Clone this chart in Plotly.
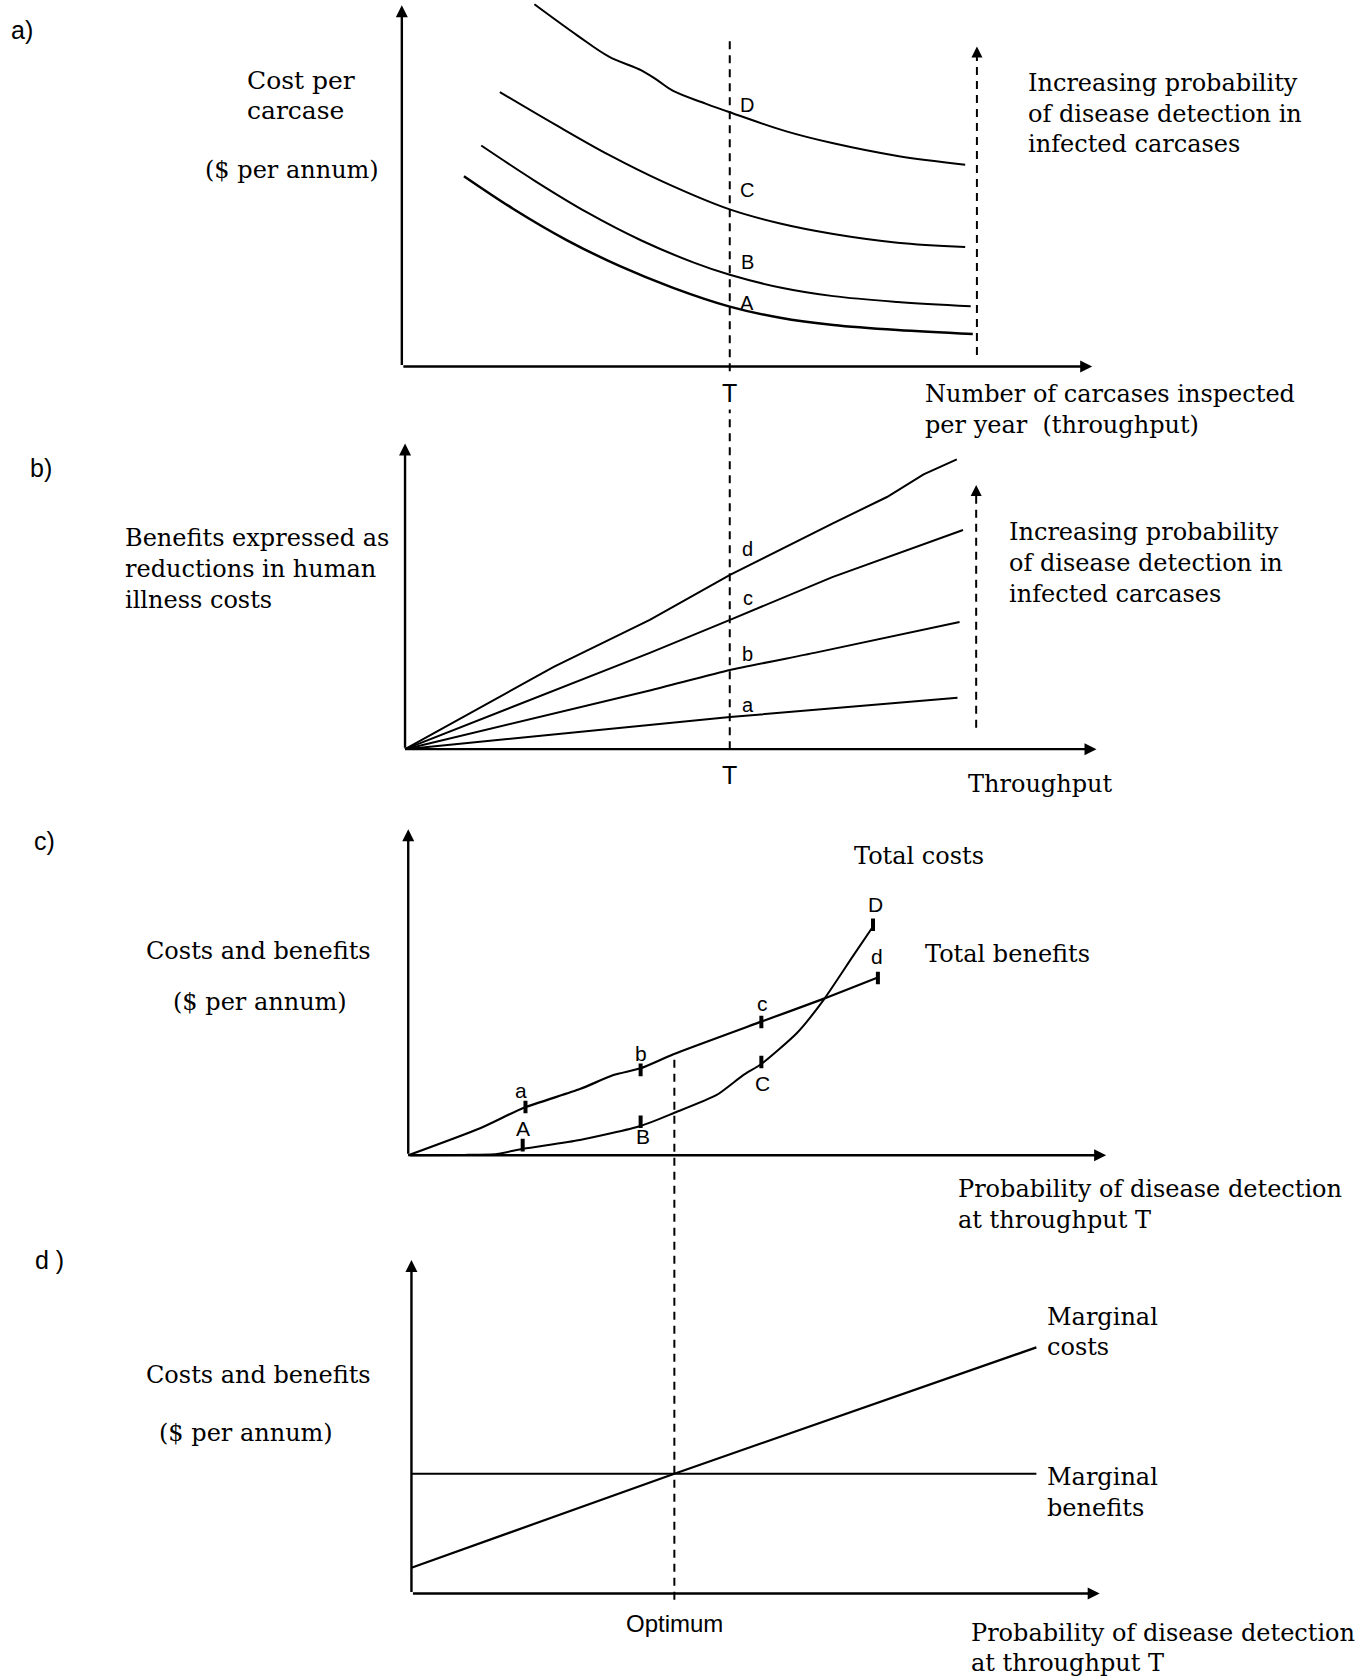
import plotly.graph_objects as go

# ---------------- data (abstract units: 0-100 along each drawn axis) ----------------
# Panel a: cost per carcase vs throughput, curves A-D
PA_A_X = [9.0, 16.1, 23.8, 31.6, 39.3, 47.5, 54.8, 62.5, 71.8, 82.7]
PA_A_Y = [52.7, 43.7, 35.1, 27.8, 21.8, 16.6, 13.5, 11.5, 10.1, 9.0]
PA_B_X = [11.5, 19.2, 26.9, 34.7, 42.4, 47.5, 54.8, 62.5, 71.8, 82.4]
PA_B_Y = [61.2, 51.5, 42.6, 34.9, 28.7, 25.4, 21.9, 19.5, 17.9, 16.7]
PA_C_X = [14.2, 22.3, 30.0, 37.8, 47.5, 54.8, 62.5, 71.8, 81.6]
PA_C_Y = [76.0, 66.9, 58.6, 51.2, 43.5, 39.6, 36.7, 34.3, 33.1]
PA_D_X = [19.2, 25.4, 30.0, 34.7, 37.0, 39.3, 44.0, 47.5, 55.7, 62.5, 71.8, 81.6]
PA_D_Y = [100.3, 91.7, 85.8, 82.0, 79.3, 76.3, 72.8, 70.4, 65.1, 61.8, 58.3, 55.9]
PA_T = 47.5            # throughput T
PA_PROB_ARROW = 83.3   # "increasing probability" arrow position
PA_LABELS = ["D", "C", "B", "A"]
PA_LABEL_Y = [72.5, 48.8, 29.0, 17.5]

# Panel b: benefits vs throughput, lines a-d
PB_D_X = [0, 21.5, 35.4, 47.0, 61.8, 69.7, 75.0, 79.8]
PB_D_Y = [0, 26.9, 42.3, 57.0, 73.8, 82.5, 89.9, 94.8]
PB_C_X = [0, 35.4, 47.0, 61.8, 80.7]
PB_C_Y = [0, 31.5, 42.3, 56.3, 71.7]
PB_B_X = [0, 35.4, 47.0, 59.2, 80.2]
PB_B_Y = [0, 19.2, 25.9, 31.5, 41.6]
PB_A_X = [0, 35.4, 47.0, 79.9]
PB_A_Y = [0, 8.0, 10.5, 16.8]
PB_PROB_ARROW = 82.6
PB_LABELS = ["d", "c", "b", "a"]
PB_LABEL_Y = [65.4, 49.3, 31.1, 14.3]

# Panel c: total costs / total benefits vs probability of detection
PC_BEN_X = [0, 10.3, 16.5, 24.6, 29.4, 33.3, 38.0, 50.6, 59.0, 67.1]
PC_BEN_Y = [0, 8.3, 14.5, 20.3, 24.6, 26.7, 31.0, 41.0, 47.6, 54.4]
PC_COST_X = [0, 8.0, 12.7, 16.5, 24.6, 33.3, 38.0, 44.2, 48.0, 50.6, 55.7, 59.5, 63.7, 66.6]
PC_COST_Y = [0, 0.1, 0.4, 2.0, 4.7, 9.0, 12.9, 18.5, 24.6, 28.0, 37.5, 47.6, 61.0, 70.2]
PC_TICK_NAMES = ["a", "A", "b", "B", "c", "C", "D", "d"]
PC_TICK_X = [16.8, 16.4, 33.3, 33.3, 50.6, 50.6, 66.6, 67.3]
PC_TICK_Y = [14.8, 3.1, 26.2, 10.3, 40.9, 28.6, 70.7, 54.4]
PC_LABEL_X = [16.2, 16.4, 33.3, 33.6, 50.8, 50.8, 67.0, 67.1]
PC_LABEL_Y = [19.8, 8.3, 31.3, 5.7, 46.7, 22.1, 77.0, 61.0]

# Panel d: marginal costs / marginal benefits
PD_MB_X = [0, 90.8]
PD_MB_Y = [35.9, 35.9]
PD_MC_X = [0, 38.2, 90.8]
PD_MC_Y = [7.7, 35.9, 73.8]
PD_OPT = 38.2

# ---------------- layout helpers ----------------
W, H = 1369, 1676
K = W / 1281.0   # reference-scale px -> figure px

def fx(xs):
    return xs * K / W

def fy(ys):
    return 1 - ys * K / H

SERIF = "DejaVu Serif"
SANS = "Liberation Sans"
TS = 24  # main serif text size

# origin and arrow-tip positions (reference px) of each panel's axes
FRAMES = {
    1: (376, 343, 1022, 5),
    2: (379, 701, 1026, 415),
    3: (382, 1081, 1035, 776),
    4: (385, 1491, 1029, 1179),
}

fig = go.Figure()
layout_axes = {}
for i, (ox, oy, xt, yt) in FRAMES.items():
    sx = (xt - ox) / 100.0
    sy = (oy - yt) / 100.0
    xr = [-4, 106]
    yr = [-4, min(106, (oy - 1) / sy)]
    xdom = [fx(ox + xr[0] * sx), fx(ox + xr[1] * sx)]
    ydom = [fy(oy - yr[0] * sy), fy(oy - yr[1] * sy)]
    sfx = "" if i == 1 else str(i)
    common = dict(visible=False, showgrid=False, zeroline=False, fixedrange=True)
    layout_axes["xaxis" + sfx] = dict(domain=xdom, range=xr, anchor="y" + sfx, **common)
    layout_axes["yaxis" + sfx] = dict(domain=ydom, range=yr, anchor="x" + sfx, **common)


def ref(i):
    s = "" if i == 1 else str(i)
    return "x" + s, "y" + s


def curve(xs, ys, i, width=2.0, shape="spline", smoothing=0.8):
    xa, ya = ref(i)
    fig.add_trace(go.Scatter(
        x=xs, y=ys, xaxis=xa, yaxis=ya, mode="lines",
        line=dict(color="black", width=width, shape=shape,
                  smoothing=smoothing if shape == "spline" else None),
        hoverinfo="skip", showlegend=False))


annotations = []
shapes = []


def axis_arrows(i):
    xa, ya = ref(i)
    for (x, y) in [(100, 0), (0, 100)]:
        annotations.append(dict(
            x=x, y=y, ax=0, ay=0, xref=xa, yref=ya, axref=xa, ayref=ya,
            text="", showarrow=True, arrowhead=2, arrowsize=1.0,
            arrowwidth=2.4, arrowcolor="black", standoff=0))


def dashed_arrow(i, x, y0, y1):
    xa, ya = ref(i)
    shapes.append(dict(type="line", xref=xa, yref=ya, x0=x, x1=x, y0=y0, y1=y1 - 2.5,
                       line=dict(color="black", width=2, dash="8px,6px")))
    annotations.append(dict(
        x=x, y=y1, ax=x, ay=y1 - 3, xref=xa, yref=ya, axref=xa, ayref=ya,
        text="", showarrow=True, arrowhead=2, arrowsize=1.1,
        arrowwidth=2, arrowcolor="black", standoff=0))


def txt(s, xs, ys, xanchor="left", size=TS, family=SERIF):
    annotations.append(dict(
        text=s, x=fx(xs), y=fy(ys), xref="paper", yref="paper",
        xanchor=xanchor, yanchor="middle", showarrow=False,
        font=dict(family=family, size=size, color="black")))


def lab(s, x, y, i, size=20, family=SANS, xanchor="center"):
    xa, ya = ref(i)
    annotations.append(dict(
        text=s, x=x, y=y, xref=xa, yref=ya, xanchor=xanchor, yanchor="middle",
        showarrow=False, font=dict(family=family, size=size, color="black")))


# ---------------- panel a ----------------
curve(PA_D_X, PA_D_Y, 1, smoothing=1.0)
curve(PA_C_X, PA_C_Y, 1, smoothing=1.0)
curve(PA_B_X, PA_B_Y, 1, smoothing=1.0)
curve(PA_A_X, PA_A_Y, 1, width=2.5, smoothing=1.0)
axis_arrows(1)
dashed_arrow(1, PA_PROB_ARROW, 3.2, 88.6)
for s, y in zip(PA_LABELS, PA_LABEL_Y):
    lab(s, PA_T + 2.5, y, 1)
# T dashed line spanning panels a and b
shapes.append(dict(type="line", xref="x", yref="paper", x0=PA_T, x1=PA_T,
                   y0=fy(701), y1=fy(37),
                   line=dict(color="black", width=2, dash="8px,6px")))
annotations.append(dict(text="T", x=PA_T, y=fy(368), xref="x", yref="paper",
                        xanchor="center", yanchor="middle",
                        showarrow=False, bgcolor="white", borderpad=2,
                        font=dict(family=SANS, size=25, color="black")))
txt("a)", 8, 28, size=25, family=SANS)
txt("Cost per", 229, 75, size=25)
txt("carcase", 229, 103, size=25)
txt("($ per annum)", 190, 159, size=TS)
txt("Increasing probability", 960, 78)
txt("of disease detection in", 960, 107)
txt("infected carcases", 960, 135)
txt("Number of carcases inspected", 864, 369)
txt("per year  (throughput)", 864, 398)

# ---------------- panel b ----------------
curve(PB_D_X, PB_D_Y, 2, shape="linear")
curve(PB_C_X, PB_C_Y, 2, shape="linear")
curve(PB_B_X, PB_B_Y, 2, shape="spline", smoothing=0.5)
curve(PB_A_X, PB_A_Y, 2, shape="linear")
axis_arrows(2)
dashed_arrow(2, PB_PROB_ARROW, 7.0, 86.4)
for s, y in zip(PB_LABELS, PB_LABEL_Y):
    lab(s, 49.6, y, 2)
annotations.append(dict(text="T", x=PA_T, y=fy(725), xref="x", yref="paper",
                        xanchor="center", yanchor="middle",
                        showarrow=False, bgcolor="white", borderpad=2,
                        font=dict(family=SANS, size=25, color="black")))
txt("b)", 26, 438, size=25, family=SANS)
txt("Benefits expressed as", 115, 503)
txt("reductions in human", 115, 532)
txt("illness costs", 115, 561)
txt("Increasing probability", 942, 498)
txt("of disease detection in", 942, 527)
txt("infected carcases", 942, 556)
txt("Throughput", 904, 734)

# ---------------- panel c ----------------
curve(PC_BEN_X, PC_BEN_Y, 3, width=2.2, smoothing=0.6)
curve(PC_COST_X, PC_COST_Y, 3, width=2.0, smoothing=0.6)
axis_arrows(3)
fig.add_trace(go.Scatter(
    x=PC_TICK_X, y=PC_TICK_Y, xaxis="x3", yaxis="y3", mode="markers",
    marker=dict(symbol="line-ns", size=9, color="black",
                line=dict(color="black", width=4)),
    hoverinfo="skip", showlegend=False))
for s, x, y in zip(PC_TICK_NAMES, PC_LABEL_X, PC_LABEL_Y):
    lab(s, x, y, 3, size=21)
txt("c)", 30, 787, size=25, family=SANS)
txt("Costs and benefits", 242, 890, xanchor="center")
txt("($ per annum)", 243, 938, xanchor="center")
txt("Total costs", 797, 801)
txt("Total benefits", 864, 893)
txt("Probability of disease detection", 895, 1113)
txt("at throughput T", 895, 1142)

# ---------------- panel d ----------------
curve(PD_MB_X, PD_MB_Y, 4, width=1.8, shape="linear")
curve(PD_MC_X, PD_MC_Y, 4, width=2.2, shape="spline", smoothing=0.5)
axis_arrows(4)
# optimum dashed line spanning panels c and d
shapes.append(dict(type="line", xref="x4", yref="paper", x0=PD_OPT, x1=PD_OPT,
                   y0=fy(1497), y1=fy(987),
                   line=dict(color="black", width=2, dash="8px,6px")))
annotations.append(dict(text="Optimum", x=PD_OPT, y=fy(1519), xref="x4", yref="paper",
                        xanchor="center", yanchor="middle", showarrow=False,
                        font=dict(family=SANS, size=24, color="black")))
txt("d )", 31, 1179, size=25, family=SANS)
txt("Costs and benefits", 242, 1287, xanchor="center")
txt("($ per annum)", 230, 1341, xanchor="center")
txt("Marginal", 978, 1232)
txt("costs", 978, 1260)
txt("Marginal", 978, 1382)
txt("benefits", 978, 1411)
txt("Probability of disease detection", 907, 1528)
txt("at throughput T", 907, 1556)

fig.update_layout(
    width=W, height=H, margin=dict(l=0, r=0, t=0, b=0),
    paper_bgcolor="white", plot_bgcolor="white",
    showlegend=False, annotations=annotations, shapes=shapes,
    **layout_axes)

fig.write_html("out.html",
               config={"displayModeBar": False, "staticPlot": True},
               post_script="document.body.style.margin='0px';"
                           "document.body.style.overflow='hidden';")
